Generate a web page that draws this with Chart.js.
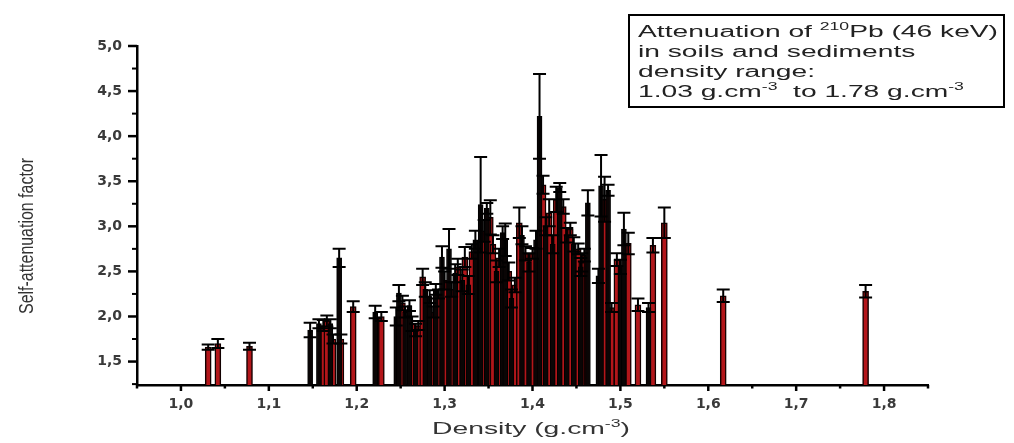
<!DOCTYPE html>
<html>
<head>
<meta charset="utf-8">
<script src="https://cdn.jsdelivr.net/npm/chart.js@4.4.1/dist/chart.umd.min.js"></script>
<style>
  html, body { margin: 0; padding: 0; background: #fff; }
  canvas { display: block; }
</style>
</head>
<body>
<canvas id="grafico" width="1014" height="443"></canvas>
<script>
// axis ticks
const xTicks = [1.0, 1.1, 1.2, 1.3, 1.4, 1.5, 1.6, 1.7, 1.8];
const yTicks = [1.5, 2.0, 2.5, 3.0, 3.5, 4.0, 4.5, 5.0];
const xMin = 0.95, xMax = 1.85;
const yMin = 1.24, yMax = 5.0;

// red bars: density, self-attenuation factor, error
const redDensity = [1.031, 1.042, 1.078, 1.162, 1.166, 1.173, 1.182, 1.196, 1.228, 1.252,
  1.263, 1.270, 1.275, 1.287, 1.293, 1.300, 1.308, 1.315, 1.323, 1.331,
  1.345, 1.352, 1.355, 1.362, 1.373, 1.380, 1.385, 1.392, 1.400, 1.412,
  1.419, 1.427, 1.435, 1.443, 1.452, 1.459, 1.456, 1.482, 1.490, 1.496,
  1.509, 1.520, 1.537, 1.550, 1.617, 1.779];
const redFactor = [1.66, 1.70, 1.67, 1.90, 1.95, 1.75, 1.75, 2.11, 2.00, 2.15,
  1.92, 1.90, 2.44, 2.05, 2.25, 2.40, 2.30, 2.55, 2.66, 2.72,
  2.95, 3.10, 2.80, 2.65, 2.50, 2.35, 3.04, 2.70, 2.70, 3.46,
  3.15, 3.30, 3.22, 2.97, 2.75, 2.68, 2.60, 3.30, 2.10, 2.63,
  2.81, 2.13, 2.79, 3.04, 2.23, 2.28];
const redError = [0.03, 0.05, 0.04, 0.06, 0.06, 0.05, 0.05, 0.06, 0.05, 0.08,
  0.08, 0.05, 0.09, 0.06, 0.05, 0.10, 0.08, 0.09, 0.11, 0.08,
  0.12, 0.19, 0.10, 0.10, 0.10, 0.08, 0.17, 0.08, 0.06, 0.10,
  0.15, 0.14, 0.08, 0.07, 0.06, 0.07, 0.10, 0.25, 0.05, 0.07,
  0.12, 0.07, 0.08, 0.17, 0.07, 0.07];

// black bars
const blackDensity = [1.147, 1.157, 1.170, 1.180, 1.221, 1.245, 1.248, 1.255, 1.260, 1.267,
  1.278, 1.283, 1.290, 1.297, 1.305, 1.312, 1.320, 1.327, 1.335, 1.341,
  1.348, 1.359, 1.366, 1.369, 1.376, 1.388, 1.396, 1.404, 1.408, 1.415,
  1.423, 1.431, 1.439, 1.447, 1.455, 1.463, 1.475, 1.478, 1.486, 1.500,
  1.504, 1.532];
const blackFactor = [1.85, 1.92, 1.92, 2.65, 2.05, 2.00, 2.26, 2.05, 2.12, 1.85,
  2.30, 2.22, 2.30, 2.66, 2.75, 2.48, 2.40, 2.35, 2.85, 3.24,
  3.20, 2.50, 2.93, 2.85, 2.20, 2.90, 2.60, 2.85, 4.22, 3.00,
  2.80, 3.43, 2.90, 2.80, 2.55, 3.26, 2.45, 3.45, 3.40, 2.55,
  2.97, 2.10];
const blackError = [0.08, 0.05, 0.05, 0.10, 0.07, 0.10, 0.09, 0.06, 0.06, 0.07,
  0.08, 0.07, 0.06, 0.12, 0.22, 0.10, 0.12, 0.10, 0.10, 0.53,
  0.06, 0.12, 0.07, 0.18, 0.10, 0.10, 0.10, 0.10, 0.47, 0.10,
  0.10, 0.05, 0.08, 0.08, 0.10, 0.14, 0.08, 0.34, 0.06, 0.08,
  0.18, 0.05];

const fmt = v => v.toFixed(1).replace('.', ',');
const toPoints = (xs, ys) => xs.map((x, i) => ({ x: x, y: ys[i] }));

// error bars drawn with the y scale
const errorBars = {
  id: 'errorBars',
  afterDatasetsDraw(chart) {
    const ctx = chart.ctx;
    const y = chart.scales.y;
    ctx.save();
    ctx.strokeStyle = '#000';
    ctx.lineWidth = 2;
    chart.data.datasets.forEach((ds, i) => {
      chart.getDatasetMeta(i).data.forEach((bar, j) => {
        const v = ds.data[j].y, e = ds.errors[j];
        const top = y.getPixelForValue(v + e);
        const bot = y.getPixelForValue(v - e);
        ctx.beginPath();
        ctx.moveTo(bar.x, top);
        ctx.lineTo(bar.x, bot);
        ctx.moveTo(bar.x - 6.5, top); ctx.lineTo(bar.x + 6.5, top);
        ctx.moveTo(bar.x - 6.5, bot); ctx.lineTo(bar.x + 6.5, bot);
        ctx.stroke();
      });
    });
    ctx.restore();
  }
};

// text with superscripts, stretched horizontally by sx
function superText(ctx, parts, size) {
  let w = 0;
  parts.forEach(p => {
    ctx.font = (p.sup ? Math.round(size * 0.62) : size) + 'px "Liberation Sans", Arial, sans-serif';
    w += ctx.measureText(p.t).width;
  });
  return w;
}
function drawSuper(ctx, parts, x, y, size, sx) {
  ctx.save();
  ctx.translate(x, y);
  ctx.scale(sx, 1);
  let cx = 0;
  parts.forEach(p => {
    ctx.font = (p.sup ? Math.round(size * 0.62) : size) + 'px "Liberation Sans", Arial, sans-serif';
    ctx.fillText(p.t, cx, p.sup ? -size * 0.45 : 0);
    cx += ctx.measureText(p.t).width;
  });
  ctx.restore();
}

const decor = {
  id: 'decor',
  afterDraw(chart) {
    const { ctx, chartArea: a, scales: { x, y } } = chart;
    ctx.save();
    ctx.strokeStyle = '#000';
    ctx.lineCap = 'butt';
    const mark = (x1, y1, x2, y2, w) => {
      ctx.lineWidth = w;
      ctx.beginPath(); ctx.moveTo(x1, y1); ctx.lineTo(x2, y2); ctx.stroke();
    };
    xTicks.forEach(v => { const p = x.getPixelForValue(v); mark(p, a.bottom, p, a.bottom + 6, 2.5); });
    [xTicks[0] - 0.05].concat(xTicks.map(v => v + 0.05)).forEach(v => {
      const p = x.getPixelForValue(v); mark(p, a.bottom, p, a.bottom + 3.5, 2.5);
    });
    yTicks.forEach(v => { const p = y.getPixelForValue(v); mark(a.left - 9, p, a.left, p, 2.5); });
    yTicks.map(v => v - 0.25).forEach(v => {
      const p = y.getPixelForValue(v); mark(a.left - 5, p, a.left, p, 2);
    });

    // axis titles
    ctx.fillStyle = '#333';
    const xt = [{ t: 'Density (g.cm' }, { t: '-3', sup: true }, { t: ')' }];
    const xw = superText(ctx, xt, 16);
    drawSuper(ctx, xt, 531 - 99, 434, 16, 198 / xw);

    ctx.save();
    ctx.translate(33, 236);
    ctx.scale(1.3, 1);
    ctx.rotate(-Math.PI / 2);
    ctx.font = '16px "Liberation Sans", Arial, sans-serif';
    ctx.textAlign = 'center';
    ctx.fillText('Self-attenuation factor', 0, 0, 156);
    ctx.restore();

    // legend box
    ctx.lineWidth = 2;
    ctx.strokeRect(629, 15, 375, 92);
    ctx.fillStyle = '#222';
    const lines = [
      [{ t: 'Attenuation of ' }, { t: '210', sup: true }, { t: 'Pb (46 keV)' }],
      [{ t: 'in soils and sediments' }],
      [{ t: 'density range:' }],
      [{ t: '1.03 g.cm' }, { t: '-3', sup: true }, { t: '  to 1.78 g.cm' }, { t: '-3', sup: true }]
    ];
    const sx = 360 / superText(ctx, lines[0], 16);
    lines.forEach((ln, i) => drawSuper(ctx, ln, 638, 37 + i * 20, 16, sx));
    ctx.restore();
  }
};

new Chart(document.getElementById('grafico'), {
  type: 'bar',
  data: {
    datasets: [{
      label: 'black',
      data: toPoints(blackDensity, blackFactor),
      errors: blackError,
      backgroundColor: '#0a0505',
      borderColor: '#000',
      borderWidth: 1,
      barThickness: 5,
      grouped: false,
      base: yMin
    }, {
      label: 'red',
      data: toPoints(redDensity, redFactor),
      errors: redError,
      backgroundColor: '#b3161a',
      borderColor: '#120000',
      borderWidth: 1.5,
      barThickness: 6,
      grouped: false,
      base: yMin
    }]
  },
  options: {
    responsive: false,
    animation: false,
    layout: { padding: { left: 0, top: 46, right: 86, bottom: 0 } },
    plugins: { legend: { display: false }, tooltip: { enabled: false } },
    scales: {
      x: {
        type: 'linear',
        offset: false,
        min: xMin,
        max: xMax,
        afterBuildTicks: s => { s.ticks = xTicks.map(v => ({ value: v })); },
        afterFit: s => { s.height = 443 - 385; },
        grid: { display: false, drawTicks: false, offset: false },
        border: { display: true, color: '#000', width: 2.5 },
        ticks: {
          callback: v => fmt(v),
          autoSkip: false,
          maxRotation: 0,
          padding: 11,
          color: '#3a3a3a',
          font: { family: '"DejaVu Sans", Arial, sans-serif', size: 14, weight: 'bold' }
        }
      },
      y: {
        min: yMin,
        max: yMax,
        afterBuildTicks: s => { s.ticks = yTicks.map(v => ({ value: v })); },
        afterFit: s => { s.width = 137; },
        grid: { display: false, drawTicks: false },
        border: { display: true, color: '#000', width: 2.5 },
        ticks: {
          callback: v => fmt(v),
          padding: 15,
          color: '#3a3a3a',
          font: { family: '"DejaVu Sans", Arial, sans-serif', size: 14, weight: 'bold' }
        }
      }
    }
  },
  plugins: [errorBars, decor]
});
</script>
</body>
</html>
